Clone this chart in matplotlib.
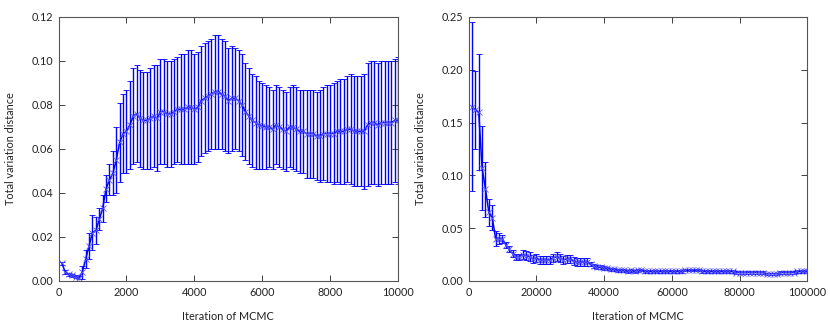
import numpy as np
import matplotlib
matplotlib.use("Agg")
import matplotlib.pyplot as plt

plt.rcParams["font.family"] = ["Lato", "DejaVu Sans"]

# left panel: 10 000 iterations, one point every 100
iters_short = list(range(100, 10001, 100))
tvd_short = [
    .008, .004, .003, .0025, .002, .0015, .004, .010, .016, .022,
    .023, .028, .033, .042, .046, .049, .055, .063, .067, .068,
    .071, .075, .076, .074, .073, .073, .074, .075, .074, .077,
    .077, .076, .076, .077, .078, .078, .078, .079, .079, .078,
    .079, .082, .083, .084, .085, .086, .086, .085, .084, .082,
    .083, .083, .082, .080, .077, .075, .073, .072, .071, .0705,
    .070, .070, .069, .071, .070, .069, .068, .070, .070, .069,
    .068, .068, .067, .067, .067, .066, .066, .067, .067, .067,
    .067, .068, .068, .068, .069, .069, .068, .068, .068, .068,
    .071, .072, .072, .071, .072, .072, .072, .072, .073, .073,
]
err_short = [
    .0008, .0008, .0007, .0006, .0006, .0006, .003, .004, .006, .008,
    .006, .005, .006, .006, .007, .010, .015, .018, .018, .019,
    .020, .022, .022, .022, .022, .022, .023, .023, .024, .024,
    .024, .024, .024, .024, .024, .025, .025, .026, .026, .025,
    .025, .025, .025, .025, .025, .026, .026, .025, .025, .024,
    .024, .023, .023, .023, .022, .022, .021, .021, .020, .0195,
    .019, .018, .018, .018, .018, .018, .018, .018, .019, .019,
    .019, .019, .020, .020, .020, .020, .021, .021, .022, .022,
    .023, .023, .024, .024, .024, .025, .025, .025, .025, .026,
    .028, .028, .028, .028, .028, .028, .028, .028, .028, .029,
]

# right panel: 100 000 iterations, one point every 1000
iters_long = list(range(1000, 100001, 1000))
tvd_long = [
    .165, .162, .160, .107, .087, .065, .060, .040, .040, .040,
    .034, .030, .026, .023, .023, .025, .024, .023, .021, .022,
    .020, .020, .020, .020, .022, .023, .022, .020, .021, .021,
    .019, .018, .018, .018, .018, .016, .014, .013, .013, .012,
    .012, .011, .011, .010, .010, .010, .009, .010, .009, .010,
    .010, .009, .009, .009, .009, .009, .009, .009, .009, .009,
    .009, .009, .009, .010, .010, .010, .010, .010, .009, .009,
    .009, .009, .009, .009, .009, .009, .009, .009, .008, .008,
    .008, .008, .008, .008, .008, .008, .008, .007, .007, .007,
    .007, .008, .008, .008, .008, .008, .009, .009, .009, .009,
]
err_long = [
    .080, .037, .055, .040, .026, .013, .012, .007, .005, .004,
    .003, .003, .003, .003, .003, .004, .004, .004, .004, .004,
    .004, .004, .004, .004, .004, .004, .004, .004, .004, .004,
    .004, .004, .004, .004, .004, .002, .002, .002, .002, .002,
    .0015, .0015, .0015, .0015, .0015, .0015, .0015, .0015, .0015, .0015,
    .001, .001, .001, .001, .001, .001, .001, .001, .001, .001,
    .001, .001, .001, .001, .001, .001, .001, .001, .001, .001,
    .001, .001, .001, .001, .001, .001, .001, .001, .001, .001,
    .001, .001, .001, .001, .001, .001, .001, .001, .001, .001,
    .001, .001, .001, .001, .001, .001, .001, .001, .001, .001,
]

fig = plt.figure(figsize=(8.3, 3.25), dpi=100)
ax1 = fig.add_axes([0.0705, 0.1354, 0.4093, 0.8123])
ax2 = fig.add_axes([0.5645, 0.1354, 0.4083, 0.8123])

panels = [
    (ax1, iters_short, tvd_short, err_short, (0, 10000), (0, 0.12), 0.02),
    (ax2, iters_long, tvd_long, err_long, (0, 100000), (0, 0.25), 0.05),
]

for ax, x, y, e, xl, yl, ystep in panels:
    ax.errorbar(x, y, yerr=e, color="b", ecolor="b", marker="x", ms=4,
                mew=0.6, mec="#5a5aff", lw=1.1, elinewidth=1.0,
                capsize=2.5, capthick=1.0)
    ax.set_xlim(*xl)
    ax.set_ylim(*yl)
    ax.set_yticks(np.arange(yl[0], yl[1] + ystep / 2, ystep))
    ax.yaxis.set_major_formatter(matplotlib.ticker.FormatStrFormatter("%.2f"))
    ax.tick_params(direction="in", top=True, right=True, length=4,
                   width=0.6, labelsize=7.8, colors="#222222", pad=4)
    for sp in ax.spines.values():
        sp.set_color("#555555")
        sp.set_linewidth(0.8)
    ax.set_xlabel("Iteration of MCMC", fontsize=7.8, labelpad=10, color="#222222")
    ax.set_ylabel("Total variation distance", fontsize=7.8, labelpad=11, color="#222222")

fig.savefig("out.png", dpi=100, facecolor="white")
